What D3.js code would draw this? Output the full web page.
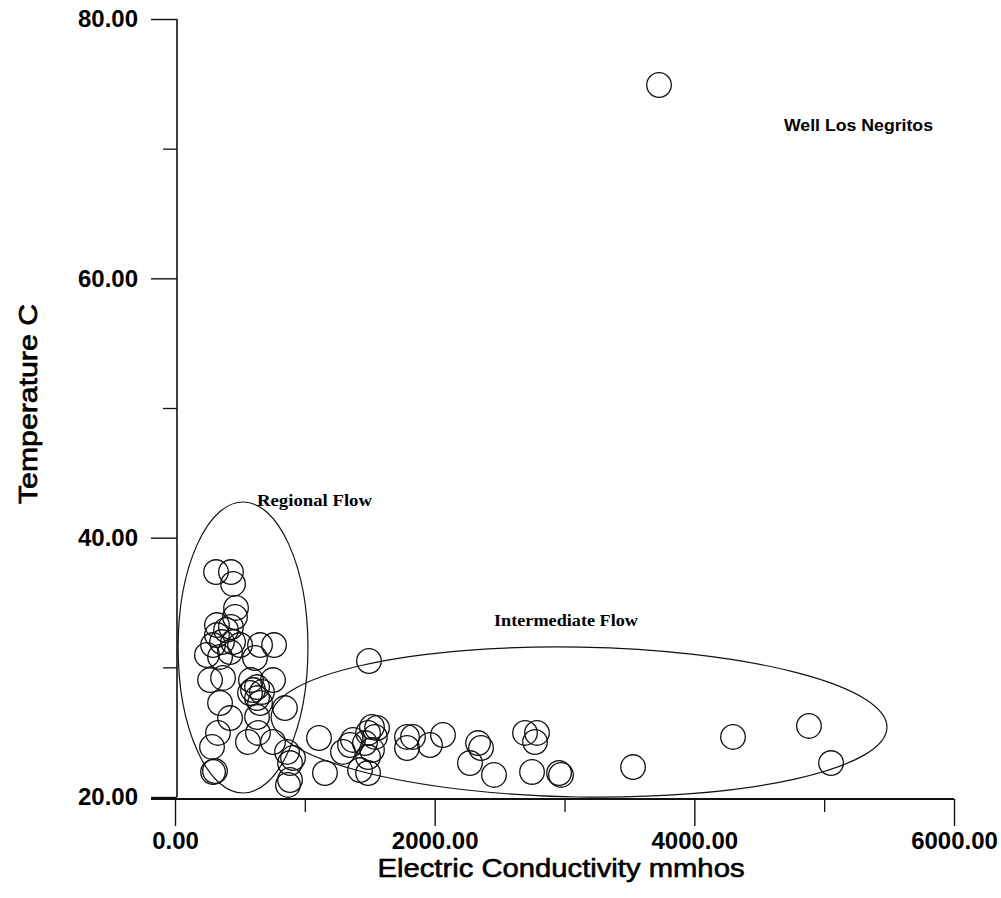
<!DOCTYPE html>
<html>
<head>
<meta charset="utf-8">
<script src="https://cdn.jsdelivr.net/npm/d3@7"></script>
<style>
  html, body { margin: 0; padding: 0; background: #ffffff; }
  svg { display: block; }
</style>
</head>
<body>
<script>
// ---- Data ----
const conductivity = [
  316,431,447,470,462,323,431,323,447,362,293,655,763,246,424,347,616,393,501,
  270,370,585,632,755,578,632,655,347,847,424,632,331,639,562,755,285,863,909,886,293,308,886,870,670,601,
  1494,1109,1155,1294,1348,1371,1517,1556,1487,1540,1463,1517,1487,1425,1487,1787,1833,1787,1964,2064,
  2334,2357,2272,2457,2696,2788,2773,2750,2958,2973,3528,4298,4883,5053,3728
];
const temperature = [
  37.35,37.35,36.43,34.58,33.88,33.26,33.11,32.49,31.95,31.95,31.72,31.72,31.72,30.95,31.18,30.80,30.72,32.88,31.72,
  29.02,29.18,29.02,28.48,29.02,28.02,27.63,27.25,27.25,26.86,26.09,26.17,24.94,24.94,24.24,24.24,23.86,23.47,23.01,22.62,21.93,22.0,21.31,20.93,28.10,28.25,
  30.49,24.55,21.85,23.47,24.01,24.40,25.40,25.32,24.94,24.63,24.16,23.62,23.08,22.08,21.85,24.63,24.63,23.78,24.01,24.78,
  24.16,23.78,22.62,21.70,24.94,24.94,24.24,21.93,21.85,21.70,22.31,24.63,25.48,22.62,74.91
];
const xMajorTicks = [0, 2000, 4000, 6000];
const xMinorTicks = [1000, 3000, 5000];
const yMajorTicks = [20, 40, 60, 80];
const yMinorTicks = [30, 50, 70];
const groupNames = ["Regional Flow", "Intermediate Flow"];
const groupCenterX = [524, 3112];
const groupCenterY = [31.53, 25.78];
const groupRadiusX = [500, 2372];
const groupRadiusY = [11.22, 5.78];
const wellName = "Well Los Negritos";
const xTitle = "Electric Conductivity mmhos";
const yTitle = "Temperature C";

// ---- Layout ----
const W = 1001, H = 898;
const svg = d3.select("body").append("svg").attr("width", W).attr("height", H);
svg.append("rect").attr("width", W).attr("height", H).attr("fill", "#ffffff");

const x = d3.scaleLinear().domain([0, 6000]).range([175, 954]);
const y = d3.scaleLinear().domain([20, 80]).range([797, 19]);
const fmt = d3.format(".2f");
const sans = "'Liberation Sans', Arial, sans-serif";

// Y axis
const yAxis = svg.append("g").attr("transform", `translate(${x(0) + 2},0)`)
  .call(d3.axisLeft(y).tickValues(yMajorTicks).tickSize(26).tickPadding(13).tickFormat(fmt));
yAxis.select(".domain").attr("d", `M0,${y(80)}V${y(20)}`).attr("stroke", "#111").attr("stroke-width", 1.6);
yAxis.selectAll(".tick line").attr("stroke", "#111").attr("stroke-width", 1.4);
yAxis.selectAll(".tick text").attr("font-family", sans)
  .attr("font-size", 24).attr("font-weight", "bold").attr("fill", "#000");
svg.append("g").attr("transform", `translate(${x(0) + 2},0)`)
  .call(d3.axisLeft(y).tickValues(yMinorTicks).tickSize(14).tickFormat(""))
  .call(g => g.select(".domain").remove())
  .selectAll(".tick line").attr("stroke", "#111").attr("stroke-width", 1.3);

// X axis
const xAxis = svg.append("g").attr("transform", `translate(0,${y(20) + 2})`)
  .call(d3.axisBottom(x).tickValues(xMajorTicks).tickSize(27).tickPadding(6).tickFormat(fmt));
xAxis.select(".domain").attr("d", `M${x(0) - 24},0H${x(6000)}`).attr("stroke", "#111").attr("stroke-width", 1.8);
xAxis.selectAll(".tick line").attr("stroke", "#111").attr("stroke-width", 1.4);
xAxis.selectAll(".tick text").attr("font-family", sans)
  .attr("font-size", 24).attr("font-weight", "bold").attr("fill", "#000");
svg.append("g").attr("transform", `translate(0,${y(20) + 2})`)
  .call(d3.axisBottom(x).tickValues(xMinorTicks).tickSize(13).tickFormat(""))
  .call(g => g.select(".domain").remove())
  .selectAll(".tick line").attr("stroke", "#111").attr("stroke-width", 1.3);

// Axis titles
svg.append("text").attr("x", 561).attr("y", 877)
  .attr("text-anchor", "middle")
  .attr("font-family", sans).attr("font-size", 26)
  .attr("stroke", "#000").attr("stroke-width", 0.6)
  .attr("textLength", 367).attr("lengthAdjust", "spacingAndGlyphs")
  .text(xTitle);
svg.append("text").attr("transform", `translate(37,404) rotate(-90)`)
  .attr("text-anchor", "middle")
  .attr("font-family", sans).attr("font-size", 26)
  .attr("stroke", "#000").attr("stroke-width", 0.7)
  .attr("textLength", 200).attr("lengthAdjust", "spacingAndGlyphs")
  .text(yTitle);

// Group ellipses
const ellipseRotation = [0, 1];
groupNames.forEach((nm, i) => {
  const cx = x(groupCenterX[i]), cy = y(groupCenterY[i]);
  const rx = x(groupRadiusX[i]) - x(0), ry = y(20) - y(20 + groupRadiusY[i]);
  svg.append("ellipse")
    .attr("cx", cx).attr("cy", cy).attr("rx", rx).attr("ry", ry)
    .attr("transform", `rotate(${ellipseRotation[i]},${cx},${cy})`)
    .attr("fill", "none").attr("stroke", "#111").attr("stroke-width", 1.2);
});

// Points
svg.append("g").selectAll("circle")
  .data(conductivity.map((c, i) => [c, temperature[i]]))
  .join("circle")
  .attr("cx", d => x(d[0])).attr("cy", d => y(d[1])).attr("r", 12.3)
  .attr("fill", "none").attr("stroke", "#111").attr("stroke-width", 1.3);

// Labels
const serif = "'Liberation Serif', 'Times New Roman', serif";
svg.append("text").attr("x", 257).attr("y", 506)
  .attr("font-family", serif).attr("font-weight", "bold").attr("font-size", 17)
  .attr("textLength", 115).attr("lengthAdjust", "spacingAndGlyphs")
  .text(groupNames[0]);
svg.append("text").attr("x", 494).attr("y", 626)
  .attr("font-family", serif).attr("font-weight", "bold").attr("font-size", 17)
  .attr("textLength", 144).attr("lengthAdjust", "spacingAndGlyphs")
  .text(groupNames[1]);
svg.append("text").attr("x", 784).attr("y", 131)
  .attr("font-family", sans).attr("font-weight", "bold").attr("font-size", 16)
  .attr("textLength", 149).attr("lengthAdjust", "spacingAndGlyphs")
  .text(wellName);
</script>
</body>
</html>
